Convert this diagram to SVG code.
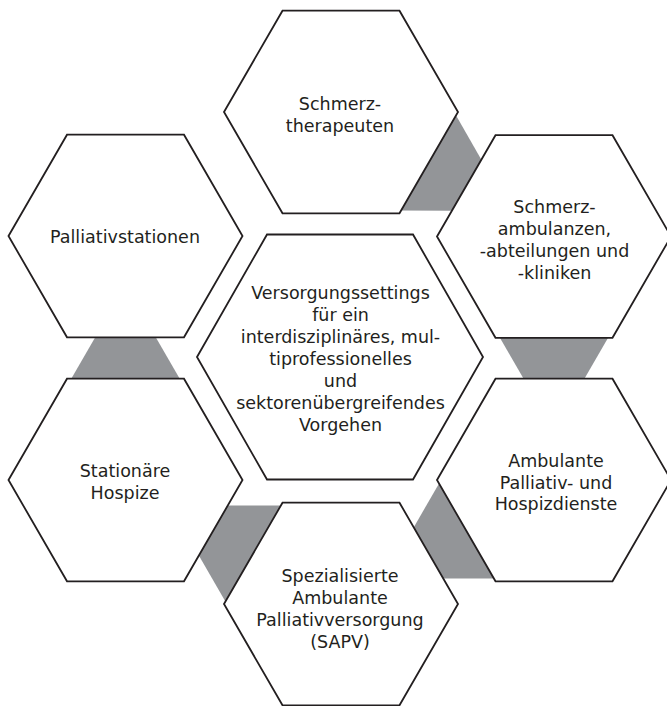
<svg xmlns="http://www.w3.org/2000/svg" xmlns:xlink="http://www.w3.org/1999/xlink" width="667" height="706" viewBox="0 0 667 706">
  <style>
    .hex { fill: #ffffff; stroke: #231f20; stroke-width: 1.8; stroke-linejoin: miter; }
    .link { fill: #939598; stroke: none; }
    .label { font-family: "DejaVu Sans", "Open Sans", "Liberation Sans", sans-serif; font-size: 17.5px; fill: #231f20; text-anchor: middle; }
  </style>
  <defs>
    <!-- flat-topped hexagons: outer ring and larger centre one -->
    <polygon id="hexSmall" points="-117,0 -58.5,-101.3 58.5,-101.3 117,0 58.5,101.3 -58.5,101.3"/>
    <polygon id="hexLarge" points="-143,0 -73,-122.5 73,-122.5 143,0 73,122.5 -73,122.5"/>
    <!-- tapered band between two neighbouring hexagons, narrow end first -->
    <polygon id="band" points="-25,-27.8 -25,27.8 25,56.7 25,-56.7"/>
  </defs>

  <rect width="667" height="706" fill="#ffffff"/>

  <g id="connectors">
    <use xlink:href="#band" class="link" transform="translate(125.5,358) rotate(90)"/>
    <use xlink:href="#band" class="link" transform="translate(233.25,542) rotate(30)"/>
    <use xlink:href="#band" class="link" transform="translate(447.5,542) rotate(-30)"/>
    <use xlink:href="#band" class="link" transform="translate(554,358.25) rotate(-90)"/>
    <use xlink:href="#band" class="link" transform="translate(447.5,174.25) rotate(210.3)"/>
  </g>

  <g id="schmerztherapeuten">
    <use xlink:href="#hexSmall" class="hex" x="341" y="112"/>
    <text class="label" x="340" y="110">Schmerz-</text>
    <text class="label" x="340" y="131.5">therapeuten</text>
  </g>

  <g id="schmerzambulanzen">
    <use xlink:href="#hexSmall" class="hex" x="554" y="236.5"/>
    <text class="label" x="554.5" y="213">Schmerz-</text>
    <text class="label" x="554.5" y="235">ambulanzen,</text>
    <text class="label" x="554.5" y="257">-abteilungen und</text>
    <text class="label" x="554.5" y="278.5">-kliniken</text>
  </g>

  <g id="palliativstationen">
    <use xlink:href="#hexSmall" class="hex" x="125.5" y="236"/>
    <text class="label" x="125" y="243">Palliativstationen</text>
  </g>

  <g id="versorgungssettings">
    <use xlink:href="#hexLarge" class="hex" x="340" y="357"/>
    <text class="label" x="340.5" y="299">Versorgungssettings</text>
    <text class="label" x="340.5" y="321">für ein</text>
    <text class="label" x="340.5" y="342.5">interdisziplinäres, mul-</text>
    <text class="label" x="340.5" y="365">tiprofessionelles</text>
    <text class="label" x="340.5" y="387">und</text>
    <text class="label" x="340.5" y="409">sektorenübergreifendes</text>
    <text class="label" x="340.5" y="431">Vorgehen</text>
  </g>

  <g id="stationaere-hospize">
    <use xlink:href="#hexSmall" class="hex" x="125.5" y="480"/>
    <text class="label" x="125" y="477">Stationäre</text>
    <text class="label" x="125" y="498.5">Hospize</text>
  </g>

  <g id="ambulante-dienste">
    <use xlink:href="#hexSmall" class="hex" x="554" y="480"/>
    <text class="label" x="556" y="467">Ambulante</text>
    <text class="label" x="556" y="488.5">Palliativ- und</text>
    <text class="label" x="556" y="510">Hospizdienste</text>
  </g>

  <g id="sapv">
    <use xlink:href="#hexSmall" class="hex" x="341" y="604"/>
    <text class="label" x="340" y="582">Spezialisierte</text>
    <text class="label" x="340" y="604">Ambulante</text>
    <text class="label" x="340" y="626">Palliativversorgung</text>
    <text class="label" x="340" y="648">(SAPV)</text>
  </g>
</svg>
